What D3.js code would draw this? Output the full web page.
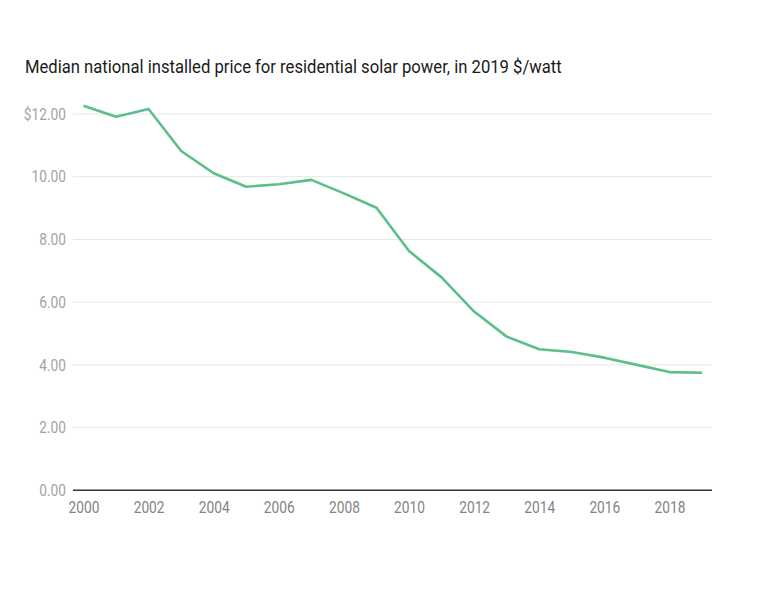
<!DOCTYPE html>
<html>
<head>
<meta charset="utf-8">
<script src="https://cdn.jsdelivr.net/npm/d3@7"></script>
<style>
  body { margin: 0; background: #fff; }
  svg text { font-family: Roboto, "Liberation Sans", sans-serif; }
</style>
</head>
<body>
<div id="chart"></div>
<script>
// Median installed price, 2019 $/watt
const years = [2000, 2001, 2002, 2003, 2004, 2005, 2006, 2007, 2008, 2009,
               2010, 2011, 2012, 2013, 2014, 2015, 2016, 2017, 2018, 2019];
const prices = [12.26, 11.91, 12.16, 10.82, 10.11, 9.68, 9.76, 9.90, 9.47, 9.01,
                7.63, 6.79, 5.70, 4.90, 4.50, 4.41, 4.23, 4.00, 3.77, 3.75];
const yTicks = [0, 2, 4, 6, 8, 10, 12];
const xTicks = [2000, 2002, 2004, 2006, 2008, 2010, 2012, 2014, 2016, 2018];
const title = "Median national installed price for residential solar power, in 2019 $/watt";

const width = 768, height = 600;
const gridLeft = 73, gridRight = 712;
const squeeze = 0.86; // the original uses a condensed face

const svg = d3.select("#chart")
  .append("svg")
  .attr("width", width)
  .attr("height", height);

// scales
const xScale = d3.scaleLinear().domain([2000, 2019]).range([83.5, 702]);
const yScale = d3.scaleLinear().domain([0, 12]).range([490.3, 114]);

// title
svg.append("text")
  .attr("transform", "translate(25, 73) scale(0.9, 1)")
  .style("font-size", "18.5px")
  .style("fill", "#1a1a1a")
  .text(title);

// horizontal grid lines
svg.append("g")
  .selectAll("line")
  .data(yTicks.filter((d) => d > 0))
  .enter()
  .append("line")
  .attr("x1", gridLeft)
  .attr("x2", gridRight)
  .attr("y1", (d) => yScale(d))
  .attr("y2", (d) => yScale(d))
  .attr("stroke", "#e6e6e6")
  .attr("stroke-width", 1);

// y tick labels
svg.append("g")
  .selectAll("text")
  .data(yTicks)
  .enter()
  .append("text")
  .attr("transform", (d) => `translate(66, ${yScale(d)}) scale(${squeeze}, 1)`)
  .attr("dy", "0.36em")
  .attr("text-anchor", "end")
  .style("font-size", "16px")
  .style("fill", "#a3a3a3")
  .text((d) => (d === 12 ? "$" : "") + d.toFixed(2));

// x axis
const xAxis = d3.axisBottom(xScale)
  .tickValues(xTicks)
  .tickFormat(d3.format("d"))
  .tickSize(0)
  .tickPadding(11);

const xg = svg.append("g")
  .attr("transform", `translate(0, ${yScale(0)})`)
  .call(xAxis);
xg.select(".domain").remove();
xg.selectAll("text")
  .attr("transform", `scale(${squeeze}, 1)`)
  .style("font-size", "16px")
  .style("font-family", "Roboto, sans-serif")
  .style("fill", "#838383");

// baseline
svg.append("line")
  .attr("x1", gridLeft)
  .attr("x2", gridRight)
  .attr("y1", yScale(0))
  .attr("y2", yScale(0))
  .attr("stroke", "#333")
  .attr("stroke-width", 1.5);

// price line
const line = d3.line()
  .x((d, i) => xScale(years[i]))
  .y((d) => yScale(d));

svg.append("path")
  .datum(prices)
  .attr("fill", "none")
  .attr("stroke", "#5cbf8a")
  .attr("stroke-width", 2.6)
  .attr("stroke-linejoin", "round")
  .attr("d", line);
</script>
</body>
</html>
